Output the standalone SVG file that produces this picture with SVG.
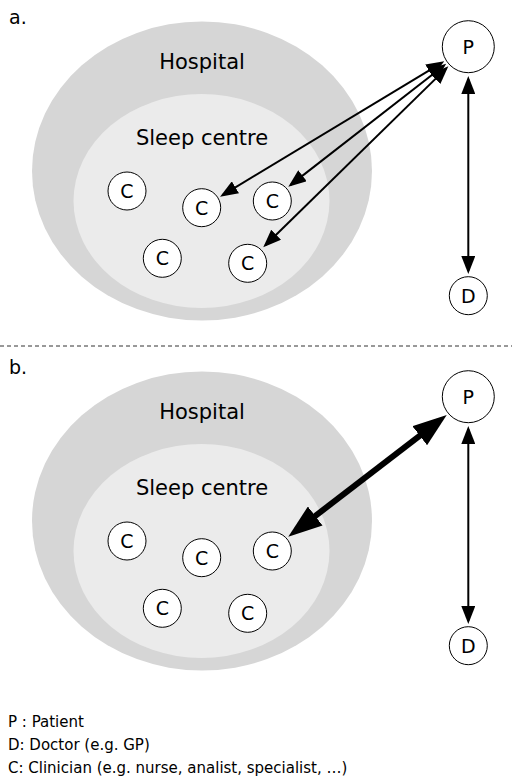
<svg xmlns="http://www.w3.org/2000/svg" width="512" height="780" viewBox="0 0 512 780">
<style>
text{font-family:"DejaVu Sans","Liberation Sans",sans-serif;fill:#000}
.hosp{fill:#d6d6d6}
.sleep{fill:#ebebeb}
.node circle{fill:#fff;stroke:#000;stroke-width:1}
.node text{font-size:19px;text-anchor:middle}
.area{font-size:21px;text-anchor:middle}
.lbl{font-size:19px}
.leg{font-size:15px}
.thin{stroke:#000;stroke-width:2;fill:none;marker-start:url(#ah);marker-end:url(#ah)}
.thick{stroke:#000;stroke-width:6;fill:none;marker-start:url(#ahb);marker-end:url(#ahb)}
</style>
<defs>
<marker id="ah" viewBox="0 0 18 14" refX="15" refY="7" markerWidth="18" markerHeight="14" markerUnits="userSpaceOnUse" orient="auto-start-reverse">
<path d="M0,0 L18,7 L0,14 z" fill="#000"/>
</marker>
<marker id="ahb" viewBox="0 0 34 24" refX="24" refY="12" markerWidth="34" markerHeight="24" markerUnits="userSpaceOnUse" orient="auto-start-reverse">
<path d="M0,0 L34,12 L0,24 z" fill="#000"/>
</marker>
</defs>
<rect width="512" height="780" fill="#fff"/>

<!-- Panel a -->
<text class="lbl" x="9" y="24">a.</text>
<g id="hospital-a">
<ellipse class="hosp" cx="202" cy="171" rx="170" ry="149.5"/>
<text class="area" x="202" y="69">Hospital</text>
</g>
<g id="sleep-a">
<ellipse class="sleep" cx="201.5" cy="201" rx="128" ry="107"/>
<text class="area" x="202" y="145">Sleep centre</text>
</g>
<g id="a-C1" class="node"><circle cx="127" cy="191" r="19"/><text x="127" y="198">C</text></g>
<g id="a-C2" class="node"><circle cx="201.7" cy="207.7" r="19"/><text x="201.7" y="214.7">C</text></g>
<g id="a-C3" class="node"><circle cx="272.3" cy="201" r="19"/><text x="272.3" y="208">C</text></g>
<g id="a-C4" class="node"><circle cx="162.3" cy="258.3" r="19"/><text x="162.3" y="265.3">C</text></g>
<g id="a-C5" class="node"><circle cx="247.7" cy="263.3" r="19"/><text x="247.7" y="270.3">C</text></g>
<g id="a-P" class="node"><circle cx="468.3" cy="46.7" r="26"/><text x="468.3" y="53.7">P</text></g>
<g id="a-D" class="node"><circle cx="468.3" cy="295.7" r="19"/><text x="468.3" y="302.7">D</text></g>
<g id="connectors-a">
<line class="thin" x1="222.6" y1="195.1" x2="441.7" y2="62.8"/>
<line class="thin" x1="290.7" y1="184.9" x2="443.8" y2="65.7"/>
<line class="thin" x1="265.4" y1="245.2" x2="446.2" y2="68.4"/>
<line class="thin" x1="468.3" y1="79" x2="468.3" y2="271"/>
</g>

<line x1="0" y1="346" x2="512" y2="346" stroke="#333" stroke-width="1" stroke-dasharray="4,3"/>

<!-- Panel b -->
<text class="lbl" x="9" y="374">b.</text>
<g id="hospital-b">
<ellipse class="hosp" cx="202" cy="521" rx="170" ry="149.5"/>
<text class="area" x="202" y="419">Hospital</text>
</g>
<g id="sleep-b">
<ellipse class="sleep" cx="201.5" cy="551" rx="128" ry="107"/>
<text class="area" x="202" y="495">Sleep centre</text>
</g>
<g id="b-C1" class="node"><circle cx="127" cy="541" r="19"/><text x="127" y="548">C</text></g>
<g id="b-C2" class="node"><circle cx="201.7" cy="557.7" r="19"/><text x="201.7" y="564.7">C</text></g>
<g id="b-C3" class="node"><circle cx="272.3" cy="551" r="19"/><text x="272.3" y="558">C</text></g>
<g id="b-C4" class="node"><circle cx="162.3" cy="608.3" r="19"/><text x="162.3" y="615.3">C</text></g>
<g id="b-C5" class="node"><circle cx="247.7" cy="613.3" r="19"/><text x="247.7" y="620.3">C</text></g>
<g id="b-P" class="node"><circle cx="468.3" cy="396.7" r="26"/><text x="468.3" y="403.7">P</text></g>
<g id="b-D" class="node"><circle cx="468.3" cy="645.7" r="19"/><text x="468.3" y="652.7">D</text></g>
<g id="connectors-b">
<line class="thick" x1="296.2" y1="530.6" x2="438.8" y2="421.1"/>
<line class="thin" x1="468.3" y1="429" x2="468.3" y2="621"/>
</g>

<g id="legend">
<text class="leg" x="8" y="727">P : Patient</text>
<text class="leg" x="8" y="750">D: Doctor (e.g. GP)</text>
<text class="leg" x="8" y="773">C: Clinician (e.g. nurse, analist, specialist, …)</text>
</g>
</svg>
